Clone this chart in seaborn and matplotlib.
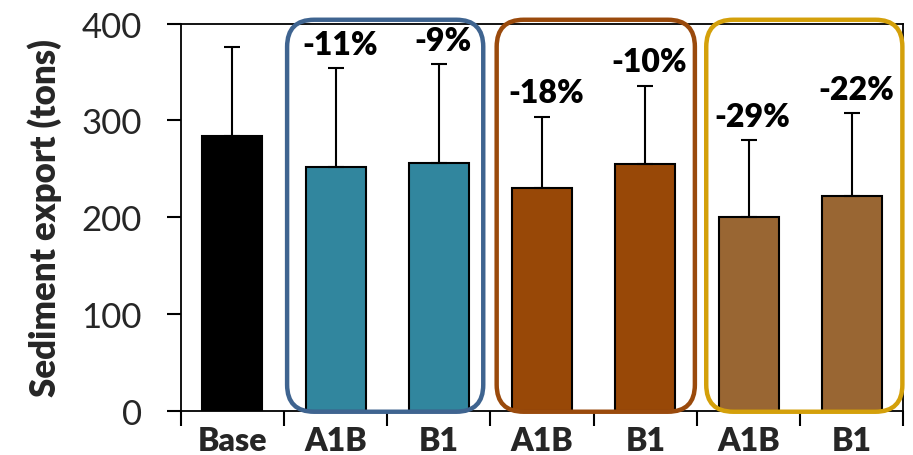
import matplotlib
matplotlib.use("Agg")
import matplotlib.pyplot as plt
from matplotlib.patches import FancyBboxPatch
from matplotlib.transforms import IdentityTransform
import seaborn as sns
import pandas as pd

# ---- data ----
bar_ids = ["Base", "A1B_a", "B1_a", "A1B_b", "B1_b", "A1B_c", "B1_c"]
tick_labels = ["Base", "A1B", "B1", "A1B", "B1", "A1B", "B1"]
means = [284, 252, 256, 230, 255, 200, 222]
upper_err = [92, 102, 102, 74, 81, 80, 86]
pct_labels = ["", "-11%", "-9%", "-18%", "-10%", "-29%", "-22%"]
bar_colors = ["#000000", "#31869E", "#31869E", "#984807", "#984807", "#996633", "#996633"]
group_spans = [(0.53, 2.43), (2.56, 4.48), (4.59, 6.49)]
group_colors = ["#3F6490", "#9A4A0C", "#D4A00A"]

sns.set_theme(style="ticks")
plt.rcParams["font.family"] = ["Lato", "DejaVu Sans"]

df = pd.DataFrame({"scenario": bar_ids, "export": means})

fig = plt.figure(figsize=(9.13, 4.56), dpi=100)
ax = fig.add_axes([0.198, 0.097, 0.7915, 0.849])

sns.barplot(data=df, x="scenario", y="export", hue="scenario",
            palette=bar_colors, saturation=1, legend=False, edgecolor="black",
            linewidth=1.5, width=0.58, errorbar=None, ax=ax)

ax.errorbar(range(len(means)), means, yerr=[[0] * len(means), upper_err],
            fmt="none", ecolor="black", elinewidth=1.5, capsize=5.5,
            capthick=1.5, zorder=1)

for i, lab in enumerate(pct_labels):
    if lab:
        ax.annotate(lab, (i, means[i] + upper_err[i]), xytext=(3, 17),
                    textcoords="offset points", ha="center", va="center",
                    fontsize=23, fontweight="heavy", color="black",
                    annotation_clip=False)

ax.set_ylim(0, 400)
ax.set_xlim(-0.5, len(means) - 0.5)
ax.set_yticks([0, 100, 200, 300, 400])
ax.set_xticks(range(len(means)))
ax.set_xticklabels(tick_labels, fontsize=23, fontweight="heavy")
ax.set_xticks([i - 0.5 for i in range(len(means) + 1)], minor=True)
ax.tick_params(axis="x", which="major", length=0, pad=11)
ax.tick_params(axis="x", which="minor", length=11, width=1.5, direction="out",
               color="black")
ax.tick_params(axis="y", which="major", length=10, width=1.5, direction="out",
               labelsize=25, pad=18, color="black")
ax.set_xlabel("")
ax.set_ylabel("Sediment export (tons)", fontsize=25, fontweight="heavy",
              labelpad=14)
for s in ax.spines.values():
    s.set_linewidth(1.3)
    s.set_color("black")

# rounded group boxes
fig.canvas.draw()
for (a, b), col in zip(group_spans, group_colors):
    x0, y0 = ax.transData.transform((a, -1))
    x1, y1 = ax.transData.transform((b, 404))
    box = FancyBboxPatch((x0, y0), x1 - x0, y1 - y0,
                         boxstyle="round,pad=0,rounding_size=27",
                         transform=IdentityTransform(), fill=False,
                         edgecolor=col, linewidth=3.2, clip_on=False, zorder=5)
    fig.patches.append(box)

fig.savefig("out.png", dpi=100)
